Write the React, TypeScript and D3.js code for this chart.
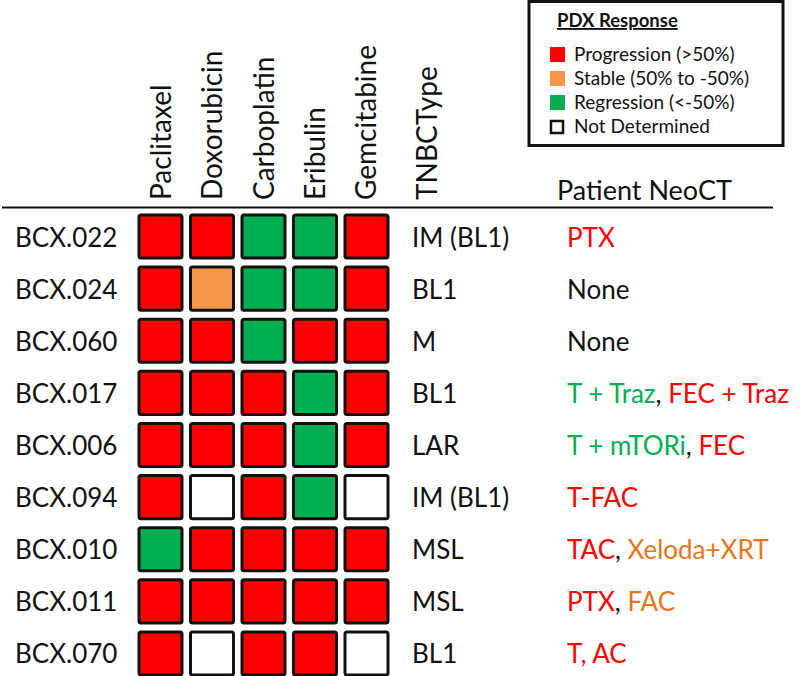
import { useEffect, useRef } from "react";
import * as d3 from "d3";

// PDX response per model (rows) and drug (columns)
// P = progression, S = stable, R = regression, N = not determined
const drugs = ["Paclitaxel", "Doxorubicin", "Carboplatin", "Eribulin", "Gemcitabine"];
const models = ["BCX.022", "BCX.024", "BCX.060", "BCX.017", "BCX.006", "BCX.094", "BCX.010", "BCX.011", "BCX.070"];
const responses = [
  ["P", "P", "R", "R", "P"],
  ["P", "S", "R", "R", "P"],
  ["P", "P", "R", "P", "P"],
  ["P", "P", "P", "R", "P"],
  ["P", "P", "P", "R", "P"],
  ["P", "N", "P", "R", "N"],
  ["R", "P", "P", "P", "P"],
  ["P", "P", "P", "P", "P"],
  ["P", "N", "P", "P", "N"],
];
const tnbcTypes = ["IM (BL1)", "BL1", "M", "BL1", "LAR", "IM (BL1)", "MSL", "MSL", "BL1"];
// patient neoadjuvant therapy, each piece coloured by its response code
const neoCT: [string, string][][] = [
  [["PTX", "P"]],
  [["None", "N"]],
  [["None", "N"]],
  [["T + Traz", "R"], [", ", "N"], ["FEC + Traz", "P"]],
  [["T + mTORi", "R"], [", ", "N"], ["FEC", "P"]],
  [["T-FAC", "P"]],
  [["TAC", "P"], [", ", "N"], ["Xeloda+XRT", "S"]],
  [["PTX", "P"], [", ", "N"], ["FAC", "S"]],
  [["T, AC", "P"]],
];
const legendCodes = ["P", "S", "R", "N"];
const legendLabels = ["Progression (>50%)", "Stable (50% to -50%)", "Regression (<-50%)", "Not Determined"];

const fill: Record<string, string> = { P: "#ff0000", S: "#f79646", R: "#00b050", N: "#ffffff" };
const textFill: Record<string, string> = { P: "#ff0000", S: "#e8741e", R: "#00b050", N: "#111111" };

const W = 800;
const H = 676;
const FONT = "Lato, 'Open Sans', sans-serif";

export default function App() {
  const ref = useRef<SVGSVGElement | null>(null);

  useEffect(() => {
    document.body.style.margin = "0";
    const svg = d3.select(ref.current!);
    svg.selectAll("*").remove();

    const x = d3.scaleBand<string>().domain(drugs).range([139, 388]).paddingInner(0.165);
    const y = d3.scaleBand<string>().domain(models).range([215, 675]).paddingInner(0.173);

    const g = svg.append("g").attr("font-family", FONT).attr("fill", "#111");

    // header rule
    g.append("line").attr("x1", 2).attr("x2", 773).attr("y1", 207.5).attr("y2", 207.5)
      .attr("stroke", "#111").attr("stroke-width", 2);

    // rotated column headers
    const headers = [...drugs.map((d) => ({ t: d, cx: x(d)! + x.bandwidth() / 2 + 10 })), { t: "TNBCType", cx: 437 }];
    g.selectAll("text.hdr").data(headers).join("text")
      .attr("class", "hdr")
      .attr("transform", (d) => `translate(${d.cx},200) rotate(-90)`)
      .attr("font-size", 28)
      .text((d) => d.t);

    g.append("text").attr("x", 557).attr("y", 200).attr("font-size", 27).text("Patient NeoCT");

    // cells
    const cells = models.flatMap((m, i) => drugs.map((d, j) => ({ m, d, v: responses[i][j] })));
    g.selectAll("rect.cell").data(cells).join("rect")
      .attr("class", "cell")
      .attr("x", (c) => x(c.d)!)
      .attr("y", (c) => y(c.m)!)
      .attr("width", x.bandwidth())
      .attr("height", y.bandwidth())
      .attr("rx", 2)
      .attr("fill", (c) => fill[c.v])
      .attr("stroke", "#111")
      .attr("stroke-width", 3);

    const rowY = (m: string) => y(m)! + y.bandwidth() / 2 + 10;

    g.selectAll("text.model").data(models).join("text")
      .attr("class", "model")
      .attr("x", 15).attr("y", rowY)
      .attr("font-size", 26)
      .text((d) => d);

    g.selectAll("text.tnbc").data(models).join("text")
      .attr("class", "tnbc")
      .attr("x", 412).attr("y", rowY)
      .attr("font-size", 26)
      .text((_, i) => tnbcTypes[i]);

    const neo = g.selectAll("text.neo").data(models).join("text")
      .attr("class", "neo")
      .attr("x", 567).attr("y", rowY)
      .attr("font-size", 26);
    neo.selectAll("tspan").data((_, i) => neoCT[i]).join("tspan")
      .attr("fill", (s) => textFill[s[1]])
      .style("white-space", "pre")
      .text((s) => s[0]);

    // legend
    const lg = svg.append("g").attr("font-family", FONT);
    lg.append("rect").attr("x", 529).attr("y", 1.5).attr("width", 254).attr("height", 144)
      .attr("fill", "#fff").attr("stroke", "#111").attr("stroke-width", 3);
    lg.append("text").attr("x", 557).attr("y", 27).attr("font-size", 18.5).attr("font-weight", "bold")
      .attr("text-decoration", "underline").attr("fill", "#111").text("PDX Response");
    const ly = d3.scalePoint<string>().domain(legendCodes).range([55, 127]);
    const item = lg.selectAll("g.item").data(legendCodes).join("g")
      .attr("class", "item")
      .attr("transform", (d) => `translate(0,${ly(d)})`);
    item.append("rect")
      .attr("x", (d) => (d === "N" ? 551 : 550))
      .attr("y", (d) => (d === "N" ? -6 : -8))
      .attr("width", (d) => (d === "N" ? 12 : 15))
      .attr("height", (d) => (d === "N" ? 12 : 15))
      .attr("fill", (d) => fill[d])
      .attr("stroke", (d) => (d === "N" ? "#111" : "none"))
      .attr("stroke-width", 2.5);
    item.append("text").attr("x", 574).attr("y", 6).attr("font-size", 19).attr("fill", "#111")
      .text((_, i) => legendLabels[i]);
  }, []);

  return <svg ref={ref} width={W} height={H} style={{ display: "block", background: "#fff" }} />;
}
